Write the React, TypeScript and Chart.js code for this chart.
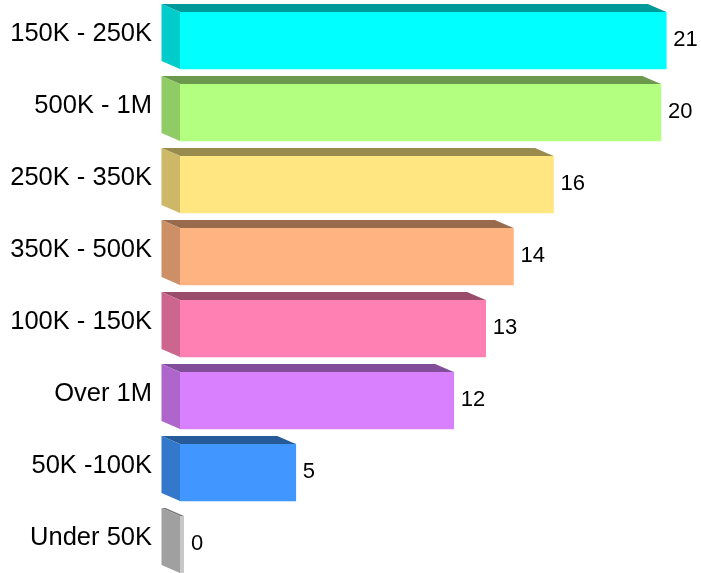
import React, { useEffect, useRef } from "react";
import { Chart, registerables } from "chart.js";

Chart.register(...registerables);

// Categories from top to bottom
const categories = [
  "150K - 250K",
  "500K - 1M",
  "250K - 350K",
  "350K - 500K",
  "100K - 150K",
  "Over 1M",
  "50K -100K",
  "Under 50K",
];
// Bar lengths
const barValues = [21, 20.77, 16.13, 14.4, 13.2, 11.82, 5.0, 0];
// Numbers printed at the bar ends
const valueLabels = ["21", "20", "16", "14", "13", "12", "5", "0"];
const frontColors = [
  "#00FFFF",
  "#B3FF80",
  "#FFE680",
  "#FFB380",
  "#FF80B3",
  "#D980FF",
  "#4196FF",
  "#C8C8C8",
];
const axisMin = 0;
const axisMax = 22.5;

const DX = -18.5;
const DY = -8;
const FONT = '"Liberation Sans", Arial, Helvetica, sans-serif';

function shade(hex: string, f: number): string {
  const n = parseInt(hex.slice(1), 16);
  const r = Math.round(((n >> 16) & 255) * f);
  const g = Math.round(((n >> 8) & 255) * f);
  const b = Math.round((n & 255) * f);
  return `rgb(${r},${g},${b})`;
}

const bar3d = {
  id: "bar3d",
  afterDatasetsDraw(chart: any) {
    const ctx = chart.ctx as CanvasRenderingContext2D;
    const meta = chart.getDatasetMeta(0);
    ctx.save();
    meta.data.forEach((el: any, i: number) => {
      const { x, y, base, height } = el.getProps(["x", "y", "base", "height"], true);
      const top = y - height / 2;
      const bottom = y + height / 2;
      const front = frontColors[i];
      let right = x;
      if (right - base < 4) {
        right = base + 4;
        ctx.fillStyle = front;
        ctx.fillRect(base, top, 4, height);
      }
      // top face
      ctx.fillStyle = shade(front, 0.6);
      ctx.beginPath();
      ctx.moveTo(base, top);
      ctx.lineTo(right, top);
      ctx.lineTo(right + DX, top + DY);
      ctx.lineTo(base + DX, top + DY);
      ctx.closePath();
      ctx.fill();
      // left face
      ctx.fillStyle = shade(front, 0.8);
      ctx.beginPath();
      ctx.moveTo(base, top);
      ctx.lineTo(base, bottom);
      ctx.lineTo(base + DX, bottom + DY);
      ctx.lineTo(base + DX, top + DY);
      ctx.closePath();
      ctx.fill();
      // value label
      ctx.fillStyle = "#000";
      ctx.font = `22px ${FONT}`;
      ctx.textAlign = "left";
      ctx.textBaseline = "middle";
      ctx.fillText(valueLabels[i], right + 7, y - 1);
    });
    ctx.restore();
  },
};

export default function App() {
  const canvasRef = useRef<HTMLCanvasElement | null>(null);

  useEffect(() => {
    if (!canvasRef.current) return;
    const chart = new Chart(canvasRef.current, {
      type: "bar",
      data: {
        labels: categories,
        datasets: [
          {
            data: barValues,
            backgroundColor: frontColors,
            borderWidth: 0,
            barThickness: 57,
            clip: false,
          },
        ],
      },
      options: {
        indexAxis: "y",
        animation: false,
        responsive: false,
        devicePixelRatio: 1,
        layout: { padding: { top: 40.5, bottom: 28.5, left: 0, right: 0 } },
        plugins: {
          legend: { display: false },
          tooltip: { enabled: false },
        },
        scales: {
          x: {
            display: false,
            min: axisMin,
            max: axisMax,
          },
          y: {
            offset: false,
            grid: { display: false, tickLength: 28 },
            border: { display: false },
            afterFit: (scale: any) => {
              scale.width = 180;
            },
            ticks: {
              autoSkip: false,
              padding: 0,
              labelOffset: -7,
              color: "#000",
              font: { size: 25.5, family: FONT },
            },
          },
        },
      },
      plugins: [bar3d],
    });
    return () => chart.destroy();
  }, []);

  return (
    <div style={{ position: "fixed", left: 0, top: 0, width: 701, height: 573, background: "#fff" }}>
      <canvas ref={canvasRef} width={701} height={573} />
    </div>
  );
}
